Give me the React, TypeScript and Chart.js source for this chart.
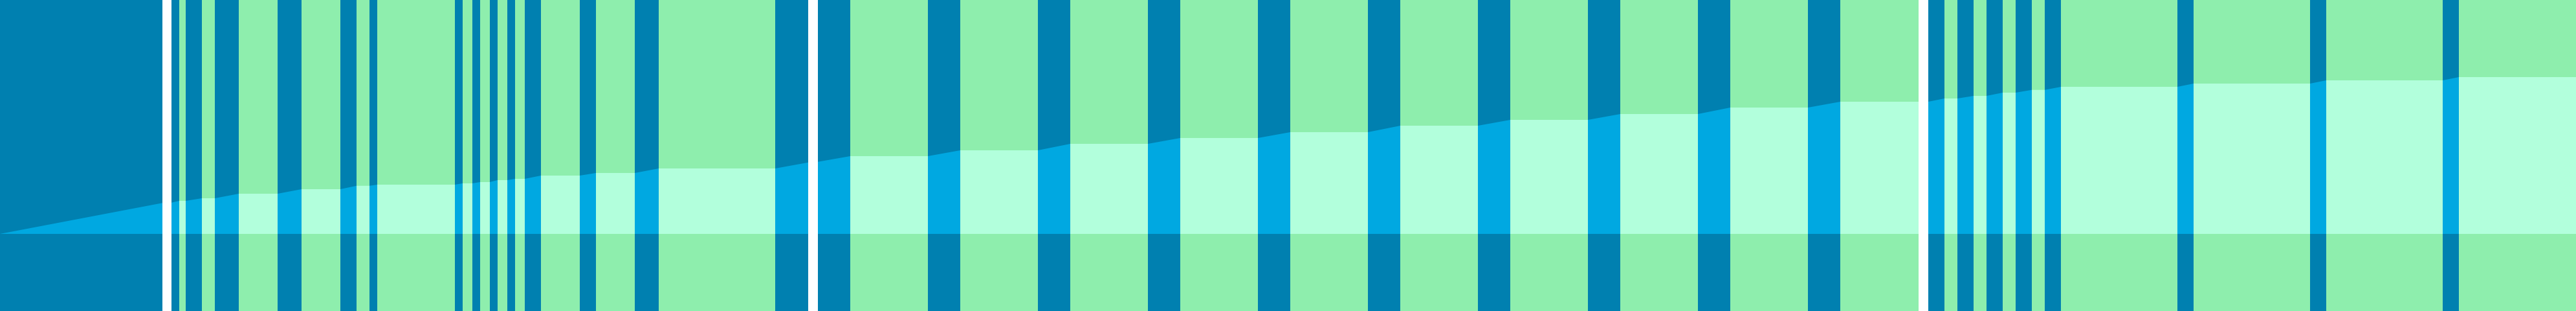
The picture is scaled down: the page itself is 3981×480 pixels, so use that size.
import { useEffect, useRef } from 'react';
import Chart from 'chart.js/auto';

// band edges along the timeline (px units of the original picture)
const EDGES = [
  0, 251, 265, 277, 287, 312, 332, 369, 429, 466, 526, 551, 571, 583,
  703, 715, 730, 742, 757, 769, 784, 796, 811, 836, 896, 921, 981, 1018,
  1198, 1249, 1264, 1314, 1434, 1484, 1604, 1654, 1774, 1824, 1944, 1994,
  2114, 2164, 2284, 2334, 2454, 2504, 2624, 2674, 2794, 2844, 2965, 2980,
  3005, 3025, 3050, 3070, 3095, 3115, 3140, 3160, 3185, 3365, 3390, 3570,
  3595, 3775, 3800, 3981,
];

// what each band between two edges is
const KINDS = [
  'run', 'gap', 'run', 'rest', 'run', 'rest', 'run', 'rest', 'run', 'rest', 'run', 'rest', 'run', 'rest',
  'run', 'rest', 'run', 'rest', 'run', 'rest', 'run', 'rest', 'run', 'rest', 'run', 'rest', 'run', 'rest',
  'run', 'gap', 'run', 'rest', 'run', 'rest', 'run', 'rest', 'run', 'rest', 'run', 'rest',
  'run', 'rest', 'run', 'rest', 'run', 'rest', 'run', 'rest', 'run', 'rest', 'gap',
  'run', 'rest', 'run', 'rest', 'run', 'rest', 'run', 'rest', 'run', 'rest', 'run', 'rest',
  'run', 'rest', 'run', 'rest',
];

// cumulative value at every edge
const PROGRESS = [
  0, 47.7, 48.3, 51, 51, 55, 55, 62, 62, 69, 69, 74.3, 74.3, 76,
  76, 78, 78, 80, 80, 83, 83, 85, 85, 90, 90, 94, 94, 101,
  101, 110.3, 111.3, 120, 120, 129, 129, 139, 139, 148, 148, 157,
  157, 167, 167, 176, 176, 185, 185, 195, 195, 204, 204, 204,
  209, 209, 213, 213, 218, 218, 222.3, 222.3, 227, 227, 232, 232,
  237, 237, 242, 242,
];

const Y_MIN = -119;
const Y_MAX = 361;

const BAND_COLORS: Record<string, string> = { run: '#0080B0', rest: '#8EEEAD', gap: '#FFFFFF' };
const AREA_COLORS: Record<string, string> = { run: '#00A8E1', rest: '#B2FFDC', gap: '#FFFFFF' };

function bandDataset(kind: string, order: number) {
  return {
    type: 'line' as const,
    data: EDGES.map((x, i) => ({ x, y: KINDS[i] === kind ? Y_MAX : Y_MIN })),
    stepped: 'before' as const,
    fill: 'start',
    backgroundColor: BAND_COLORS[kind],
    borderColor: 'transparent',
    borderWidth: 0,
    pointRadius: 0,
    order,
  };
}

export default function App() {
  const ref = useRef<HTMLCanvasElement>(null);
  useEffect(() => {
    document.body.style.margin = '0';
    if (!ref.current) return;
    const c = new Chart(ref.current, {
      type: 'line',
      data: {
        datasets: [
          bandDataset('run', 3),
          bandDataset('rest', 2),
          {
            type: 'line',
            data: EDGES.map((x, i) => ({ x, y: PROGRESS[i] })),
            fill: 'origin',
            backgroundColor: AREA_COLORS.rest,
            borderColor: 'transparent',
            borderWidth: 0,
            pointRadius: 0,
            tension: 0,
            segment: { backgroundColor: (ctx: any) => AREA_COLORS[KINDS[ctx.p0DataIndex]] },
            order: 1,
          },
          bandDataset('gap', 0),
        ] as any,
      },
      options: {
        animation: false,
        responsive: true,
        maintainAspectRatio: false,
        layout: { padding: 0 },
        scales: {
          x: { type: 'linear', min: 0, max: 3981, display: false },
          y: { min: Y_MIN, max: Y_MAX, display: false },
        },
        plugins: {
          legend: { display: false },
          tooltip: { enabled: false },
        },
      },
    });
    return () => c.destroy();
  }, []);
  return (
    <div style={{ width: 3981, height: 480, position: 'relative' }}>
      <canvas ref={ref} />
    </div>
  );
}
